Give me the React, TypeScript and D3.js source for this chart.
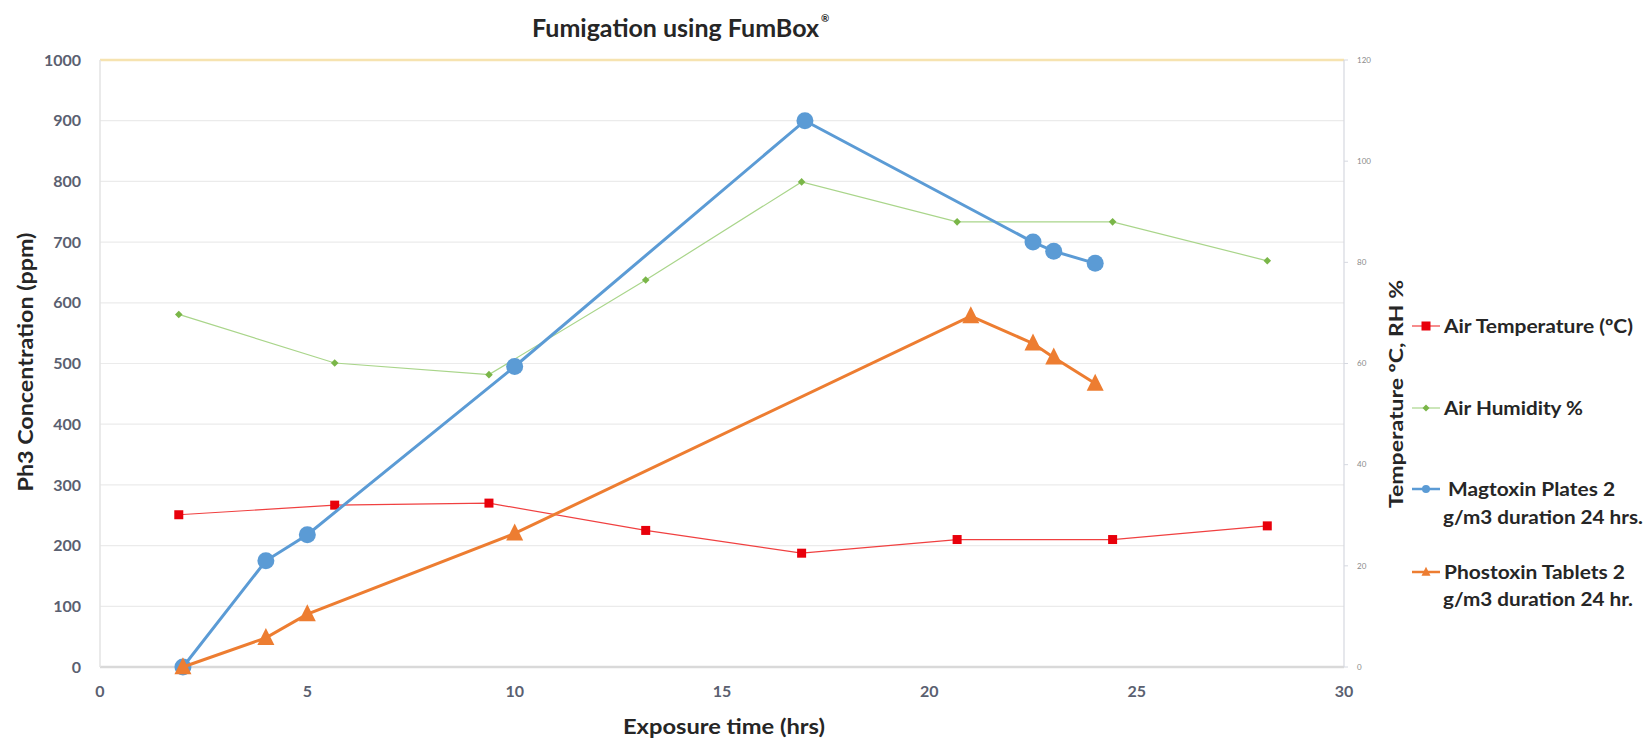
import React from "react";
import * as d3 from "d3";

const W = 1649;
const H = 738;

const xTicks = [0, 5, 10, 15, 20, 25, 30];
const yLeftTicks = [0, 100, 200, 300, 400, 500, 600, 700, 800, 900, 1000];
const yRightTicks = [0, 20, 40, 60, 80, 100, 120];

const envHours = [1.9, 5.66, 9.38, 13.16, 16.92, 20.67, 24.42, 28.15];
const airTemperature = [30.1, 32.0, 32.4, 27.0, 22.5, 25.2, 25.2, 27.9];
const airHumidity = [69.7, 60.1, 57.8, 76.5, 95.9, 88.0, 88.0, 80.3];

const magHours = [2, 4, 5, 10, 17, 22.5, 23, 24];
const magtoxin = [0, 175, 218, 495, 900, 700, 685, 665];

const phosHours = [2, 4, 5, 10, 21, 22.5, 23, 24];
const phostoxin = [0, 48, 87, 220, 578, 533, 510, 467];

const FONT = "Lato, 'Open Sans', sans-serif";

const C_TEMP = "#E8000B";
const C_TEMP_LINE = "#F04040";
const C_HUM = "#7AB648";
const C_HUM_LINE = "#A9D58A";
const C_MAG = "#5B9BD5";
const C_PHOS = "#ED7D31";

export default function App() {
  const left = 100, right = 1344, top = 60, bottom = 667;
  const x = d3.scaleLinear().domain([0, 30]).range([left, right]);
  const yL = d3.scaleLinear().domain([0, 1000]).range([bottom, top]);
  const yR = d3.scaleLinear().domain([0, 120]).range([bottom, top]);

  const line = d3.line<[number, number]>().x(d => d[0]).y(d => d[1]);
  const tempPts: [number, number][] = envHours.map((h, i) => [x(h), yR(airTemperature[i])]);
  const humPts: [number, number][] = envHours.map((h, i) => [x(h), yR(airHumidity[i])]);
  const magPts: [number, number][] = magHours.map((h, i) => [x(h), yL(magtoxin[i])]);
  const phosPts: [number, number][] = phosHours.map((h, i) => [x(h), yL(phostoxin[i])]);

  const tri = (cx: number, cy: number, s: number) =>
    `M${cx},${cy - s * 0.58}L${cx + s / 2},${cy + s * 0.42}L${cx - s / 2},${cy + s * 0.42}Z`;
  const diamond = (cx: number, cy: number, s: number) =>
    `M${cx},${cy - s}L${cx + s},${cy}L${cx},${cy + s}L${cx - s},${cy}Z`;

  const legX = 1426;
  const legTextX = 1444;
  const LA = "spacingAndGlyphs";

  return (
    <div style={{ position: "fixed", left: 0, top: 0 }}>
      <svg width={W} height={H} style={{ display: "block", background: "#fff" }}>
        {/* gridlines */}
        {yLeftTicks.map(t => (
          <line key={"g" + t} x1={left} x2={right} y1={yL(t)} y2={yL(t)}
            stroke={t === 1000 ? "#F6E3B0" : t === 0 ? "#D9D9D9" : "#EBEBEB"}
            strokeWidth={t === 1000 || t === 0 ? 2.5 : 1.2} />
        ))}
        <line x1={left} x2={left} y1={top} y2={bottom} stroke="#E3E3E3" strokeWidth={1.5} />
        <line x1={right} x2={right} y1={top} y2={bottom} stroke="#D5D8E0" strokeWidth={1.2} />
        {yRightTicks.map(t => (
          <line key={"rt" + t} x1={right} x2={right + 4} y1={yR(t)} y2={yR(t)} stroke="#D5D8E0" />
        ))}

        {/* left ticks */}
        {yLeftTicks.map(t => (
          <text key={"yl" + t} x={81} y={yL(t)} dy="0.35em" textAnchor="end"
            fontFamily={FONT} fontWeight={700} fontSize={16} fill="#5A6070">{t}</text>
        ))}
        {/* right ticks */}
        {yRightTicks.map(t => (
          <text key={"yr" + t} x={1357} y={yR(t)} dy="0.35em" textAnchor="start"
            fontFamily={FONT} fontSize={8} fill="#8A8A8A">{t}</text>
        ))}
        {/* x ticks */}
        {xTicks.map(t => (
          <text key={"x" + t} x={x(t)} y={697} textAnchor="middle"
            fontFamily={FONT} fontWeight={700} fontSize={16} fill="#5A6070">{t}</text>
        ))}

        {/* titles */}
        <text x={532} y={37} textAnchor="start" fontFamily={FONT} fontWeight={700} fontSize={25} fill="#262626">
          Fumigation using FumBox<tspan fontSize={10} dx={2} dy={-15}>®</tspan>
        </text>
        <text transform={`translate(33,362) rotate(-90)`} textAnchor="middle"
          fontFamily={FONT} fontWeight={700} fontSize={20} fill="#262626"
          textLength={259} lengthAdjust={LA}>Ph3 Concentration (ppm)</text>
        <text x={724} y={734} textAnchor="middle" fontFamily={FONT} fontWeight={700} fontSize={21} fill="#262626"
          textLength={202} lengthAdjust={LA}>Exposure time (hrs)</text>
        <text transform={`translate(1403,394) rotate(-90)`} textAnchor="middle"
          fontFamily={FONT} fontWeight={700} fontSize={19} fill="#262626"
          textLength={228} lengthAdjust={LA}>Temperature ºC, RH %</text>

        {/* series: temperature */}
        <path d={line(tempPts) || ""} fill="none" stroke={C_TEMP_LINE} strokeWidth={1.2} />
        {tempPts.map((p, i) => (
          <rect key={"tp" + i} x={p[0] - 4.5} y={p[1] - 4.5} width={9} height={9} fill={C_TEMP} />
        ))}
        {/* humidity */}
        <path d={line(humPts) || ""} fill="none" stroke={C_HUM_LINE} strokeWidth={1.2} />
        {humPts.map((p, i) => (
          <path key={"hp" + i} d={diamond(p[0], p[1], 3.8)} fill={C_HUM} />
        ))}
        {/* magtoxin */}
        <path d={line(magPts) || ""} fill="none" stroke={C_MAG} strokeWidth={3} />
        {magPts.map((p, i) => (
          <circle key={"mp" + i} cx={p[0]} cy={p[1]} r={8.5} fill={C_MAG} />
        ))}
        {/* phostoxin */}
        <path d={line(phosPts) || ""} fill="none" stroke={C_PHOS} strokeWidth={3} />
        {phosPts.map((p, i) => (
          <path key={"pp" + i} d={tri(p[0], p[1], 17)} fill={C_PHOS} />
        ))}

        {/* legend */}
        <g fontFamily={FONT} fontWeight={700} fontSize={19} fill="#262626">
          <line x1={legX - 14} x2={legX + 14} y1={326} y2={326} stroke={C_TEMP_LINE} strokeWidth={1.2} />
          <rect x={legX - 4.5} y={326 - 4.5} width={9} height={9} fill={C_TEMP} />
          <text x={legTextX} y={326} dy="0.35em" textLength={189} lengthAdjust={LA}>Air Temperature (ºC)</text>

          <line x1={legX - 14} x2={legX + 14} y1={408} y2={408} stroke={C_HUM_LINE} strokeWidth={1.2} />
          <path d={diamond(legX, 408, 3.5)} fill={C_HUM} />
          <text x={legTextX} y={408} dy="0.35em" textLength={139} lengthAdjust={LA}>Air Humidity %</text>

          <line x1={legX - 14} x2={legX + 14} y1={489} y2={489} stroke={C_MAG} strokeWidth={2.5} />
          <circle cx={legX} cy={489} r={4} fill={C_MAG} />
          <text x={1448} y={489} dy="0.35em" textLength={167} lengthAdjust={LA}>Magtoxin Plates 2</text>
          <text x={1443} y={517} dy="0.35em" textLength={200} lengthAdjust={LA}>g/m3 duration 24 hrs.</text>

          <line x1={legX - 14} x2={legX + 14} y1={572} y2={572} stroke={C_PHOS} strokeWidth={2.5} />
          <path d={tri(legX, 572, 9)} fill={C_PHOS} />
          <text x={legTextX} y={572} dy="0.35em" textLength={181} lengthAdjust={LA}>Phostoxin Tablets 2</text>
          <text x={1443} y={599} dy="0.35em" textLength={190} lengthAdjust={LA}>g/m3 duration 24 hr.</text>
        </g>
      </svg>
    </div>
  );
}
